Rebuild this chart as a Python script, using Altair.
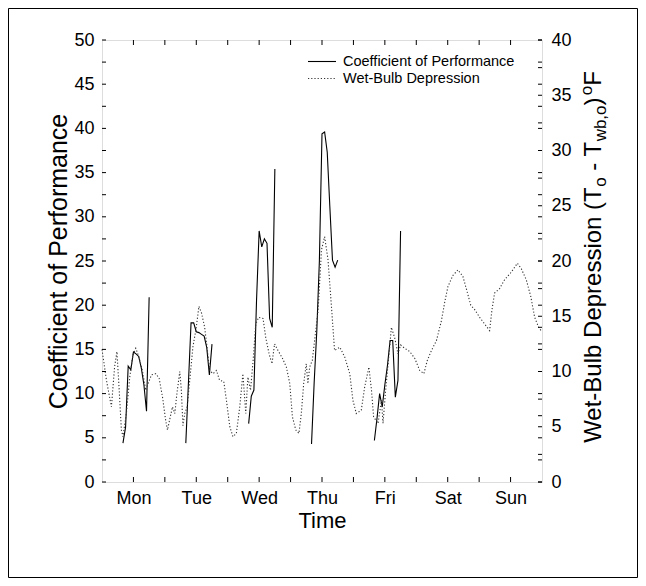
import altair as alt
import pandas as pd

FONT = "Liberation Sans"

days = ["Mon", "Tue", "Wed", "Thu", "Fri", "Sat", "Sun"]

# Coefficient of performance, hourly 08:00-18:00 (hours since Monday 00:00)
mon_h = [8, 9, 10, 11, 12, 13, 14, 15, 16, 17, 18]
mon_cop = [4.4, 6.2, 13.1, 12.7, 14.7, 14.5, 14.2, 12.9, 11.0, 8.0, 20.9]
tue_h = [32, 33, 34, 35, 36, 37, 38, 39, 40, 41, 42]
tue_cop = [4.4, 11.2, 18.0, 18.0, 17.0, 16.9, 16.7, 16.5, 15.2, 12.1, 15.6]
wed_h = [56, 57, 58, 59, 60, 61, 62, 63, 64, 65, 66]
wed_cop = [6.6, 9.7, 10.4, 20.5, 28.4, 26.6, 27.5, 27.0, 18.5, 17.5, 35.4]
thu_h = [80, 81, 82, 83, 84, 85, 86, 87, 88, 89, 90]
thu_cop = [4.3, 11.2, 17.0, 25.0, 39.4, 39.6, 37.3, 31.1, 25.1, 24.3, 25.1]
fri_h = [104, 105, 106, 107, 108, 109, 110, 111, 112, 113, 114]
fri_cop = [4.7, 7.2, 10.0, 8.5, 11.0, 13.2, 16.0, 16.0, 9.6, 11.5, 28.4]

# Wet-bulb depression (deg F)
wb_h = [0, 1.7, 3.6, 4.8, 5.7, 6.5, 7.4, 8.0, 9.3, 10.6, 11.8, 12.9, 14.1, 15.4,
        16.7, 17.6, 18.9, 20.5, 21.8, 23.1, 24.3, 25.0, 25.8, 26.9, 27.8, 28.6,
        29.7, 30.3, 30.9, 31.6, 32.5, 33.5, 34.7, 36.0, 37.0, 38.0, 39.2, 40.1,
        41.1, 42.4, 43.7, 44.9, 46.5, 47.5, 48.8, 50.0, 51.3, 52.6, 53.8, 54.9,
        55.7, 56.7, 57.7, 58.7, 59.8, 61.5, 62.5, 63.8, 64.9, 65.9, 67.2, 68.9,
        70.4, 71.7, 72.7, 74.0, 75.2, 76.1, 77.0, 78.0, 78.6, 79.3, 80.3, 82.5,
        83.8, 85.0, 86.3, 87.6, 88.8, 90.8, 92.7, 94.6, 95.8, 97.1, 99.0, 100.3,
        101.9, 102.9, 103.7, 105.4, 106.7, 107.3, 108.3, 109.6, 110.5, 111.8,
        113.0, 114.0, 115.6, 117.5, 119.4, 121.3, 122.9, 124.2, 125.8, 127.7,
        129.6, 130.8, 132.1, 134.0, 135.9, 137.8, 139.1, 140.8, 142.3, 144.2,
        146.1, 148.0, 148.9, 149.9, 151.8, 153.7, 156.3, 158.6, 160.1, 162.0,
        163.7, 165.2, 166.7, 168.0]
wb_val = [12.0, 9.2, 6.8, 10.4, 11.8, 8.6, 4.7, 4.1, 6.2, 9.5, 11.5, 12.1, 11.3, 10.1,
          8.3, 8.9, 9.7, 9.8, 9.4, 7.7, 5.6, 4.7, 5.6, 6.8, 6.2, 8.0,
          10.0, 8.3, 5.1, 6.2, 6.8, 9.2, 12.2, 14.0, 15.9, 15.3, 14.0, 12.2,
          10.1, 9.8, 10.1, 9.2, 9.1, 7.4, 5.0, 4.1, 4.4, 6.8, 9.8, 6.2,
          9.5, 8.3, 11.0, 14.3, 14.9, 14.8, 13.1, 11.6, 10.7, 12.5, 11.9, 11.2,
          10.4, 8.9, 5.9, 4.7, 4.4, 6.2, 8.9, 10.7, 8.9, 10.4, 11.0, 15.5,
          21.0, 22.2, 20.1, 15.9, 11.9, 12.2, 11.3, 9.8, 7.4, 6.2, 6.5, 8.6,
          10.4, 8.3, 5.9, 5.3, 7.4, 5.3, 8.3, 11.6, 14.0, 13.0,
          11.6, 12.4, 12.1, 11.8, 11.2, 10.1, 9.8, 11.0, 11.9, 12.8,
          14.6, 16.2, 17.7, 18.7, 19.2, 18.6, 17.5, 16.0, 15.6, 14.9,
          14.3, 13.7, 15.6, 17.1, 17.5, 18.3, 19.0, 19.8, 19.3, 18.3,
          16.8, 14.9, 14.0, 13.6]

cop_ticks = [i * 2.5 for i in range(21)]
wb_ticks = [i * 2.5 for i in range(17)]
time_ticks = [12 * i for i in range(1, 14)]

W, H = 440, 442

cop_rows = []
for d, hs, vs in [("Mon", mon_h, mon_cop), ("Tue", tue_h, tue_cop), ("Wed", wed_h, wed_cop),
                  ("Thu", thu_h, thu_cop), ("Fri", fri_h, fri_cop)]:
    for h, v in zip(hs, vs):
        cop_rows.append({"h": h, "cop": v, "day": d})
cop_df = pd.DataFrame(cop_rows)
wb_df = pd.DataFrame({"h": wb_h, "wb": wb_val})

label_expr = "[" + ",".join("'%s'" % d for d in days) + "][round((datum.value - 12) / 24)]"
xscale = alt.Scale(domain=[0, 168], nice=False, zero=False)
xaxis = alt.Axis(values=[12 + 24 * i for i in range(7)], labelExpr=label_expr, title="Time",
                 ticks=False, domain=False, grid=False, labelFontSize=18, titleFontSize=22,
                 labelPadding=7, titlePadding=3, titleFontWeight="normal",
                 labelFont=FONT, titleFont=FONT, labelColor="black", titleColor="black")
X = alt.X("h:Q", scale=xscale, axis=xaxis)
cop_scale = alt.Scale(domain=[0, 50], nice=False, zero=False)
wb_scale = alt.Scale(domain=[0, 40], nice=False, zero=False)

cop_line = alt.Chart(cop_df).mark_line(color="black", strokeWidth=1.1).encode(
    x=X,
    y=alt.Y("cop:Q", scale=cop_scale,
            axis=alt.Axis(orient="left", values=list(range(0, 51, 5)), ticks=False, domain=False,
                          grid=False, labelFontSize=18, labelPadding=8,
                          title="Coefficient of Performance", titleFontSize=25,
                          titleFontWeight="normal", titlePadding=2, labelFont=FONT,
                          titleFont=FONT, labelColor="black", titleColor="black")),
    detail="day:N",
)

wb_line = alt.Chart(wb_df).mark_line(color="#333333", strokeWidth=1.1, strokeDash=[1.2, 2]).encode(
    x=X,
    y=alt.Y("wb:Q", scale=wb_scale,
            axis=alt.Axis(orient="right", values=list(range(0, 41, 5)), ticks=False, domain=False,
                          grid=False, labelFontSize=18, labelPadding=9, title=None,
                          labelFont=FONT, labelColor="black")),
)

def yticks(vals, scale, x0, x1):
    return alt.Chart(pd.DataFrame({"v": vals})).mark_rule(color="black", strokeWidth=1).encode(
        y=alt.Y("v:Q", scale=scale, axis=None), x=alt.value(x0), x2=alt.value(x1))

tick_df = pd.DataFrame({"h": time_ticks})
bottom_ticks = alt.Chart(tick_df).mark_rule(color="black").encode(
    x=X, y=alt.value(H), y2=alt.value(H - 5))
top_ticks = alt.Chart(tick_df).mark_rule(color="black").encode(
    x=X, y=alt.value(0), y2=alt.value(5))

one = pd.DataFrame({"a": [0]})

# legend
leg_solid = alt.Chart(one).mark_rule(color="black", strokeWidth=1.1).encode(
    x=alt.value(206), x2=alt.value(234), y=alt.value(21.5))
leg_dot = alt.Chart(one).mark_rule(color="#333333", strokeWidth=1.1, strokeDash=[1.2, 2]).encode(
    x=alt.value(206), x2=alt.value(234), y=alt.value(38.5))
leg_t1 = alt.Chart(one).mark_text(text="Coefficient of Performance", align="left", baseline="middle",
                                  fontSize=14.5, font=FONT, color="black").encode(
    x=alt.value(241), y=alt.value(21.5))
leg_t2 = alt.Chart(one).mark_text(text="Wet-Bulb Depression", align="left", baseline="middle",
                                  fontSize=14.5, font=FONT, color="black").encode(
    x=alt.value(241), y=alt.value(38.5))

# right axis title with subscripts / superscript (None = a blank gap of one space)
AW = {' ': 278, '(': 333, ')': 333, ',': 278, '-': 333, 'B': 667, 'D': 722, 'F': 611,
      'T': 611, 'W': 944, 'b': 556, 'e': 556, 'i': 222, 'l': 222, 'n': 556, 'o': 556,
      'p': 556, 'r': 333, 's': 500, 't': 278, 'u': 556, 'w': 722}
S, T = 24, 17
pieces = [("Wet-Bulb Depression (T", S, 0), ("o", T, 5), (" ", S, None), ("- T", S, 0),
          ("wb,o", T, 5), (")", S, 0), (" ", 8, None), ("o", T, -9), ("F", S, 0)]
def tw(s, size):
    return sum(AW[c] for c in s) * size / 1000.0
total = sum(tw(p, s) for p, s, _ in pieces)
ycur = 217 + total / 2
base_x = 499
title_layers = []
for txt, size, shift in pieces:
    if shift is not None:
        title_layers.append(alt.Chart(one).mark_text(text=txt, align="left", baseline="alphabetic",
                                                     angle=270, fontSize=size, font=FONT,
                                                     color="black").encode(
            x=alt.value(base_x + shift), y=alt.value(ycur)))
    ycur -= tw(txt, size)

border = alt.Chart(one).mark_rect(filled=False, stroke="black", strokeWidth=1).encode(
    x=alt.value(-93.5), x2=alt.value(535.5), y=alt.value(-31.5), y2=alt.value(537.5))

chart = alt.layer(
    cop_line, wb_line,
    yticks(cop_ticks, cop_scale, 0, 4), yticks(cop_ticks, cop_scale, W - 4, W),
    yticks(wb_ticks, wb_scale, W - 4, W),
    bottom_ticks, top_ticks,
    leg_solid, leg_dot, leg_t1, leg_t2, border, *title_layers,
).resolve_scale(y="independent").properties(
    width=W, height=H,
    padding={"left": 94, "top": 32, "right": 96, "bottom": 96},
    autosize=alt.AutoSizeParams(type="none"),
).configure_view(stroke="black", strokeWidth=1).configure(background="white")

chart.save("out.html", embed_options={"renderer": "svg", "actions": False})
